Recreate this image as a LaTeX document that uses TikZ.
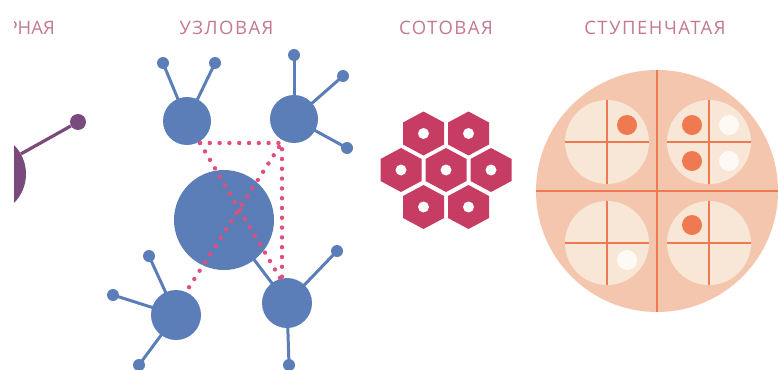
\documentclass[tikz,border=0pt]{standalone}
\usepackage{fontspec}
\setmainfont{Open Sans}
\usetikzlibrary{backgrounds}
\definecolor{nblue}{HTML}{5B7EB9}
\definecolor{dotpink}{HTML}{E04E7C}
\definecolor{labelc}{HTML}{C47891}
\definecolor{purp}{HTML}{7B4A7C}
\definecolor{hexc}{HTML}{C63C63}
\definecolor{peach}{HTML}{F4C6AE}
\definecolor{cream}{HTML}{F8E6D6}
\definecolor{orng}{HTML}{EF7A52}
\definecolor{wdot}{HTML}{FDFAF6}
\tikzset{
  bnode/.style={circle, fill=nblue, inner sep=0pt, minimum size=#1},
  bdot/.style={circle, fill=nblue, inner sep=0pt, minimum size=12pt},
  bline/.style={draw=nblue, line width=3pt},
  pinkdots/.style={draw=dotpink, line width=4.4pt, line cap=round, dash pattern=on 0pt off 9.8pt},
  lbl/.style={font=\fontsize{18.5}{20}\selectfont\addfontfeature{LetterSpace=8}, text=labelc, anchor=base, inner sep=0pt},
  lbltight/.style={font=\fontsize{18.5}{20}\selectfont, text=labelc, anchor=base east, inner sep=0pt},
  disk/.style={circle, fill=peach, inner sep=0pt, minimum size=242pt},
  inner/.style={circle, fill=cream, inner sep=0pt, minimum size=84pt},
  oline/.style={draw=orng, line width=2pt},
  odot/.style={circle, fill=orng, inner sep=0pt, minimum size=20pt},
  wcirc/.style={circle, fill=wdot, inner sep=0pt, minimum size=20pt},
  hexcell/.pic={
    \fill[hexc] (0,-22) -- (20.5,-11) -- (20.5,11) -- (0,22) -- (-20.5,11) -- (-20.5,-11) -- cycle;
    \fill[white] (0,0) circle[radius=5.5pt];
  }
}
\begin{document}
\begin{tikzpicture}[x=1pt,y=-1pt]
\useasboundingbox (0,0) rectangle (778,369);
\begin{scope}
\clip (14,0) rectangle (778,369);
% labels
\node[lbltight] (t1) at (55,35) {РНАЯ};
\node[lbl] (t2) at (226.5,35) {УЗЛОВАЯ};
\node[lbl] (t3) at (446,35) {СОТОВАЯ};
\node[lbl] (t4) at (655,35) {СТУПЕНЧАТАЯ};
% purple fragment
\node[circle, fill=purp, inner sep=0pt, minimum size=82pt] (pbig) at (-15,174) {};
\node[circle, fill=purp, inner sep=0pt, minimum size=16pt] (pdot) at (78,122) {};
\draw[draw=purp, line width=3.2pt] (pbig) -- (pdot);
% stepped disk
\node[disk] (dk) at (657,191) {};
\draw[oline] (dk.north) -- (dk.south);
\draw[oline] (dk.west) -- (dk.east);
\foreach \n/\x/\y in {q1/607/142, q2/709/142, q3/607/243, q4/709/243}{
  \node[inner] (\n) at (\x,\y) {};
  \draw[oline] (\n.north) -- (\n.south);
  \draw[oline] (\n.west) -- (\n.east);
}
\node[odot] (q1a) at (627,125) {};
\node[odot] (q2a) at (692,125) {};
\node[wcirc] (q2b) at (729,125) {};
\node[odot] (q2c) at (692,161) {};
\node[wcirc] (q2d) at (729,161) {};
\node[wcirc] (q3a) at (627,260) {};
\node[odot] (q4a) at (692,225) {};
\end{scope}
% honeycomb
\pic at (423.5,133.5) {hexcell};
\pic at (468.5,133.5) {hexcell};
\pic at (401,170) {hexcell};
\pic at (446,170) {hexcell};
\pic at (491,170) {hexcell};
\pic at (423.5,207) {hexcell};
\pic at (468.5,207) {hexcell};
% node network
\node[bnode=48pt] (tl) at (187,121) {};
\node[bnode=48pt] (tr) at (294,119) {};
\node[bnode=100pt] (big) at (224,220) {};
\node[bnode=50pt] (bl) at (176,315) {};
\node[bnode=50pt] (br) at (287,303) {};
\node[bdot] (tla) at (163,63) {};
\node[bdot] (tlb) at (215,63) {};
\node[bdot] (tra) at (294,55) {};
\node[bdot] (trb) at (343,76) {};
\node[bdot] (trc) at (347,148) {};
\node[bdot] (bla) at (149,256) {};
\node[bdot] (blb) at (113,295) {};
\node[bdot] (blc) at (139,365) {};
\node[bdot] (bra) at (337,251) {};
\node[bdot] (brb) at (289,365) {};
\begin{scope}[on background layer]
\draw[bline] (tl.center) -- (tla.center);
\draw[bline] (tl.center) -- (tlb.center);
\draw[bline] (tr.center) -- (tra.center);
\draw[bline] (tr.center) -- (trb.center);
\draw[bline] (tr.center) -- (trc.center);
\draw[bline] (bl.center) -- (bla.center);
\draw[bline] (bl.center) -- (blb.center);
\draw[bline] (bl.center) -- (blc.center);
\draw[bline] (br.center) -- (bra.center);
\draw[bline] (br.center) -- (brb.center);
\draw[bline] (big.center) -- (br.center);
\end{scope}
\coordinate (c1) at (200,143);
\coordinate (c2) at (282,143);
\coordinate (c3) at (282,278);
\coordinate (c4) at (280,278);
\coordinate (c5) at (279,147);
\coordinate (c6) at (186,292);
\draw[pinkdots] (c1) -- (c2) -- (c3);
\draw[pinkdots] (c1) -- (c4);
\draw[pinkdots] (c5) -- (c6);
\end{tikzpicture}
\end{document}
